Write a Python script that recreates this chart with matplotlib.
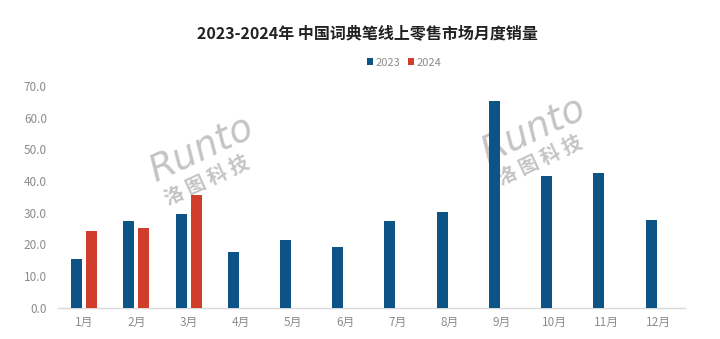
import matplotlib

matplotlib.use("Agg")
import matplotlib.pyplot as plt
import numpy as np

plt.rcParams["font.family"] = ["Noto Sans CJK SC", "DejaVu Sans"]

# --- data: monthly online retail volume of dictionary pens -----------------
months = ["1月", "2月", "3月", "4月", "5月", "6月",
          "7月", "8月", "9月", "10月", "11月", "12月"]
sales_2023 = [15.4, 27.3, 29.6, 17.5, 21.4, 19.2,
              27.3, 30.2, 65.3, 41.6, 42.4, 27.7]
sales_2024 = [24.2, 25.1, 35.7]
y_ticks = [0, 10, 20, 30, 40, 50, 60, 70]

BLUE = "#0C5486"
RED = "#D03E2B"
GRAY = "#8C8C8C"

fig = plt.figure(figsize=(7.2, 3.39), dpi=100)
ax = fig.add_axes([0.0806, 0.0923, 0.8704, 0.6537])

x = np.arange(len(months))
width = 0.21
offset = 0.145
ax.bar(x - offset, sales_2023, width, color=BLUE, label="2023", zorder=3)
ax.bar(x[:len(sales_2024)] + offset, sales_2024, width, color=RED,
       label="2024", zorder=3)

ax.set_xlim(-0.5, len(months) - 0.5)
ax.set_ylim(0, 70)
ax.set_yticks(y_ticks)
ax.set_yticklabels([f"{v:.1f}" for v in y_ticks])
ax.set_xticks(x)
ax.set_xticklabels(months)
ax.tick_params(axis="both", length=0, labelsize=8.5, labelcolor=GRAY)
ax.tick_params(axis="y", pad=8)
ax.tick_params(axis="x", pad=6)

for side in ("top", "right", "left"):
    ax.spines[side].set_visible(False)
ax.spines["bottom"].set_color("#D9D9D9")
ax.spines["bottom"].set_linewidth(1.0)

fig.text(0.51, 0.902, "2023-2024年 中国词典笔线上零售市场月度销量",
         ha="center", va="center", fontsize=11.5, fontweight="bold",
         color="#222222")

fig.legend(loc="center", bbox_to_anchor=(0.561, 0.815), ncol=2,
           frameon=False, fontsize=8, labelcolor=GRAY,
           handlelength=0.55, handleheight=0.55, handletextpad=0.2,
           columnspacing=0.7)

# faint brand watermarks, kept behind the bars
for wx, wy in [(0.28, 0.56), (0.742, 0.617)]:
    ax.text(wx, wy, "Runto", ha="center", va="center",
            fontsize=27, style="italic", color="#C4C4C4",
            rotation=25, family="DejaVu Sans", zorder=1,
            transform=fig.transFigure)
    ax.text(wx + 0.008, wy - 0.092, "洛 图 科 技", ha="center", va="center",
            fontsize=14, fontweight="bold", color="#C4C4C4",
            rotation=25, zorder=1, transform=fig.transFigure)

fig.savefig("out.png", dpi=100, facecolor="white")
